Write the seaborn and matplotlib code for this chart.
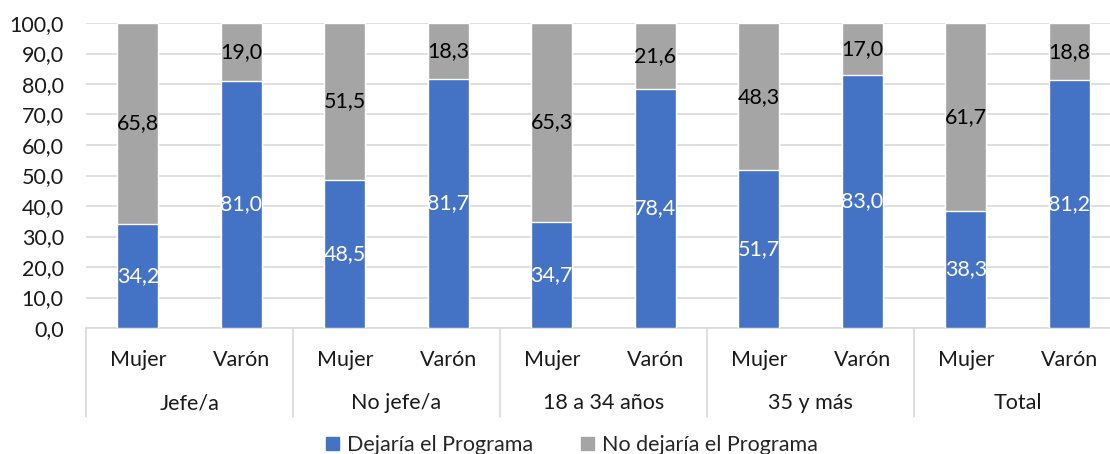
import pandas as pd
import seaborn as sns
import matplotlib.pyplot as plt
from matplotlib.patches import Patch

# --- data ---
grupos = ["Jefe/a", "No jefe/a", "18 a 34 años", "35 y más", "Total"]
sexos = ["Mujer", "Varón"]
dejaria = [34.2, 81.0, 48.5, 81.7, 34.7, 78.4, 51.7, 83.0, 38.3, 81.2]
no_dejaria = [65.8, 19.0, 51.5, 18.3, 65.3, 21.6, 48.3, 17.0, 61.7, 18.8]

AZUL = "#4472C4"
GRIS = "#A5A5A5"
TXT = "#1A1A1A"
FS = 15.5

df = pd.DataFrame({
    "grupo": [g for g in grupos for _ in sexos],
    "sexo": sexos * len(grupos),
    "dejaria": dejaria,
    "no_dejaria": no_dejaria,
})
df["barra"] = df["grupo"] + " | " + df["sexo"]
df["tope"] = df["dejaria"] + df["no_dejaria"]

sns.set_theme(style="white")
plt.rcParams["font.family"] = ["Lato", "DejaVu Sans"]

fig = plt.figure(figsize=(11.1, 4.54), dpi=100)
ax = fig.add_axes([86 / 1110, 1 - 328 / 454, 1035 / 1110, 305 / 454])

# stacked: gray full height first, blue on top of it
sns.barplot(data=df, x="barra", y="tope", color=GRIS, width=0.4,
            saturation=1, ax=ax, zorder=2)
sns.barplot(data=df, x="barra", y="dejaria", color=AZUL, width=0.4,
            saturation=1, ax=ax, zorder=3)

ax.set_ylim(0, 100)
ax.set_xlim(-0.5, len(df) - 0.5)
ax.set_yticks(range(0, 101, 10))
ax.set_yticklabels([f"{v:.1f}".replace(".", ",") for v in range(0, 101, 10)],
                   fontsize=FS, color=TXT)
ax.yaxis.grid(True, color="#D9D9D9", linewidth=1.2, zorder=0)
ax.set_axisbelow(True)
for s in ["top", "right", "left"]:
    ax.spines[s].set_visible(False)
ax.spines["bottom"].set_color("#D9D9D9")
ax.spines["bottom"].set_linewidth(1.2)
ax.tick_params(axis="y", length=0, pad=16)
ax.tick_params(axis="x", length=0, pad=16)
ax.set_xticks(range(len(df)))
ax.set_xticklabels(df["sexo"], fontsize=FS, color=TXT)
ax.set_xlabel("")
ax.set_ylabel("")

# value labels
for i, row in df.iterrows():
    d, n = row["dejaria"], row["no_dejaria"]
    ax.text(i, d / 2, f"{d:.1f}".replace(".", ","), ha="center", va="center",
            color="white", fontsize=FS, zorder=5)
    ax.text(i, d + n / 2, f"{n:.1f}".replace(".", ","), ha="center", va="center",
            color="black", fontsize=FS, zorder=5)

# group labels and separators below the axis
trans = ax.get_xaxis_transform()
sep_bottom = -(417 - 328) / 305
for k, g in enumerate(grupos):
    ax.text(2 * k + 0.5, -(403 - 328) / 305, g, transform=trans, ha="center",
            va="center", fontsize=FS, color=TXT)
    ax.plot([2 * k - 0.5, 2 * k - 0.5], [0, sep_bottom], transform=trans,
            color="#D9D9D9", linewidth=1.2, clip_on=False)

handles = [Patch(color=AZUL, label="Dejaría el Programa"),
           Patch(color=GRIS, label="No dejaría el Programa")]
fig.legend(handles=handles, loc="center", bbox_to_anchor=(572 / 1110, 1 - 445 / 454),
           ncol=2, frameon=False, fontsize=FS, handlelength=0.6, handleheight=0.6,
           handletextpad=0.4, columnspacing=2.2)

fig.savefig("out.png", dpi=100)
